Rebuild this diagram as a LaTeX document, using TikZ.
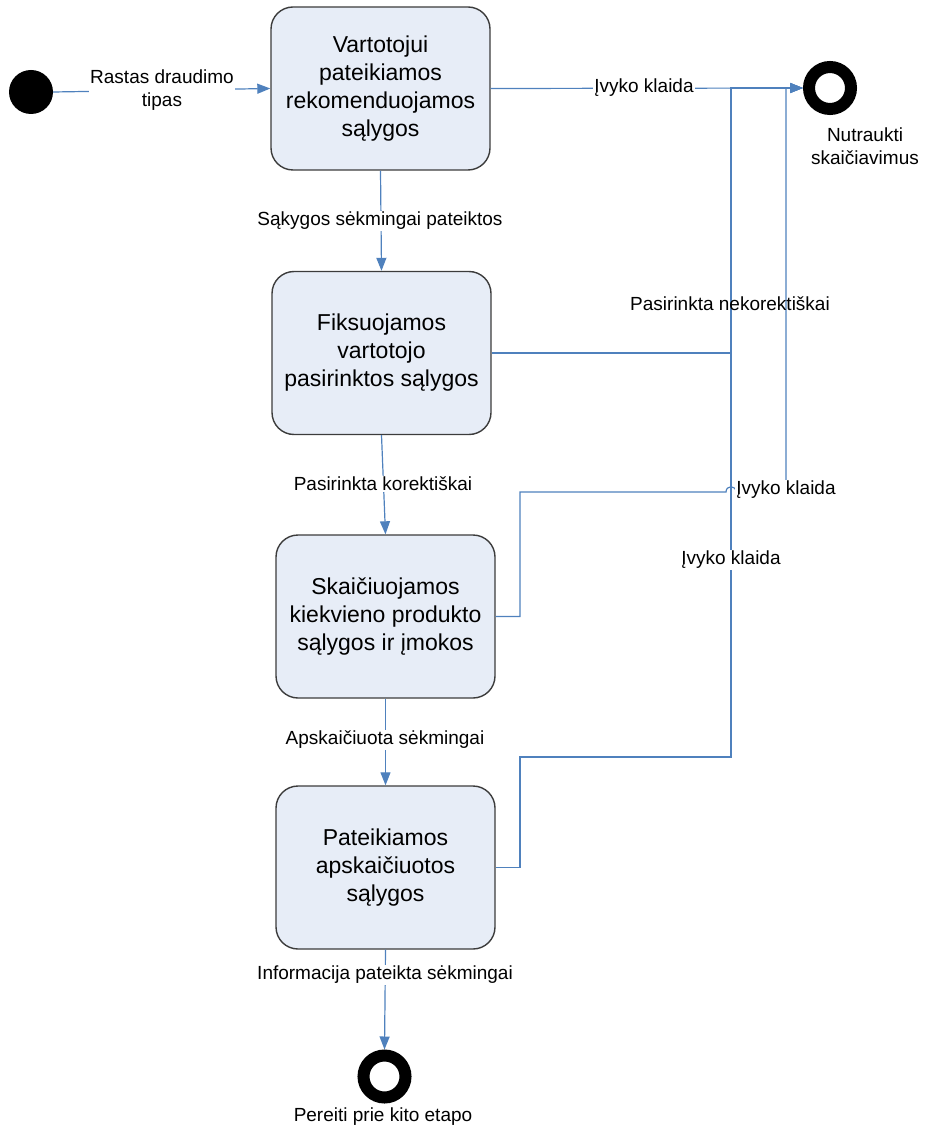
\documentclass[tikz,border=0pt]{standalone}
\usepackage{fontspec}
\setmainfont{Liberation Sans}
\usetikzlibrary{arrows.meta}
\definecolor{flow}{RGB}{79,129,189}
\definecolor{boxfill}{RGB}{231,237,247}
\definecolor{boxline}{RGB}{60,60,60}
\begin{document}
\begin{tikzpicture}[x=1pt,y=-1pt,
  state/.style={draw=boxline,line width=1.4pt,fill=boxfill,rounded corners=22pt,
    minimum width=219pt,minimum height=163pt,inner sep=0pt,align=center,
    font=\fontsize{23}{28}\selectfont},
  initial/.style={circle,fill=black,minimum size=44pt,inner sep=0pt},
  final/.style={circle,draw=black,line width=12pt,fill=white,minimum size=42pt,
    inner sep=0pt,outer sep=6pt},
  wire/.style={draw=flow,line width=1.2pt},
  conn/.style={wire,-{Triangle[length=13pt,width=10pt]}},
  lbl/.style={font=\fontsize{19}{23}\selectfont,align=center,inner sep=1pt},
  tag/.style={lbl,fill=white}]
\useasboundingbox (0,0) rectangle (924,1131);

% states
\node[initial] (s) at (31,92) {};
\node[state] (b1) at (380.5,88.5) {Vartotojui\\pateikiamos\\rekomenduojamos\\sąlygos};
\node[state] (b2) at (381.5,353) {Fiksuojamos\\vartotojo\\pasirinktos sąlygos};
\node[state] (b3) at (385.5,616.5) {Skaičiuojamos\\kiekvieno produkto\\sąlygos ir įmokos};
\node[state] (b4) at (385.5,867.5) {Pateikiamos\\apskaičiuotos\\sąlygos};
\node[final] (e1) at (830,88) {};
\node[final] (e2) at (384.5,1076.5) {};
\node[lbl] (e1t) at (865,146) {Nutraukti\\skaičiavimus};
\node[lbl] (e2t) at (383,1117) {Pereiti prie kito etapo};

% bend points of the error routes
\coordinate (r3a) at (520,616.5);
\coordinate (r3b) at (520,492);
\coordinate (h1) at (726,492);
\coordinate (h2) at (736,492);
\coordinate (r3c) at (786,492);
\coordinate (r3d) at (786,88);
\coordinate (r4a) at (520,867.5);
\coordinate (r4b) at (520,757);
\coordinate (r4c) at (731,757);
\coordinate (jn) at (731,88);
\coordinate (r2a) at (731,353);

% main flow
\draw[conn] (s.east) -- (b1.west);
\draw[conn] (b1.south) -- (b2.north);
\draw[conn] (b2.south) -- (b3.north);
\draw[conn] (b3.south) -- (b4.north);
\draw[conn] (b4.south) -- (e2.north);

% error routes
\draw[conn] (b1.east) -- (e1.west);
\draw[wire] (b2.east) -- (r2a) -- (jn);
\draw[conn] (b4.east) -- (r4a) -- (r4b) -- (r4c) -- (jn) -- (e1.west);
\draw[conn] (b3.east) -- (r3a) -- (r3b) -- (h1)
  .. controls (726,485) and (736,485) .. (h2) -- (r3c) -- (r3d) -- (e1.west);

% transition labels
\node[tag] (l0) at (162,90) {Rastas draudimo\\tipas};
\node[tag] (l1) at (644,88) {Įvyko klaida};
\node[tag] (l2) at (380,221) {Sąkygos sėkmingai pateiktos};
\node[lbl] (l3) at (730,304) {Pasirinkta nekorektiškai};
\node[tag] (l4) at (383,484) {Pasirinkta korektiškai};
\node[tag] (l5) at (786,490) {Įvyko klaida};
\node[tag] (l6) at (731,560) {Įvyko klaida};
\node[tag] (l7) at (385,740) {Apskaičiuota sėkmingai};
\node[tag] (l8) at (385,975) {Informacija pateikta sėkmingai};
\end{tikzpicture}
\end{document}
